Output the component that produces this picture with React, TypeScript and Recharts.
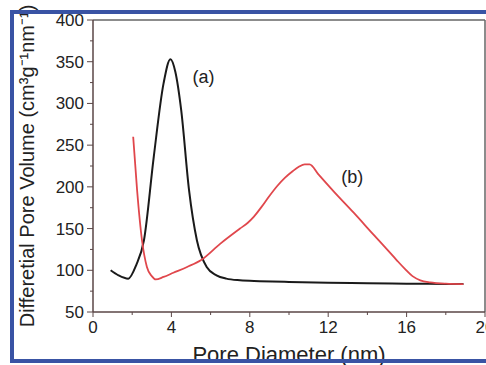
import { LineChart, Line, XAxis, YAxis, ReferenceLine, ReferenceDot } from "recharts";

// curve (a)
const poreA = [0.9, 1.3, 1.8, 2.2, 2.6, 3.1, 3.6, 3.95, 4.2, 4.5, 4.9, 5.3, 5.8, 6.3, 6.8, 7.5, 8.5, 10, 12, 14, 16, 18, 18.9];
const volA = [100, 94, 90, 106, 136, 236, 324, 353, 338, 292, 196, 136, 104, 94, 90, 88, 87, 86, 85, 84.5, 84, 83.7, 83.6];

// curve (b)
const poreB = [2.05, 2.25, 2.5, 2.75, 3.0, 3.2, 3.6, 4.1, 4.8, 5.5, 6.5, 7.5, 7.9, 8.2, 8.6, 9.0, 9.4, 9.8, 10.2, 10.5, 10.8, 11.05, 11.5, 12.3, 13.3, 14.3, 15.0, 15.5, 15.9, 16.3, 16.7, 17.2, 18.0, 18.9];
const volB = [260, 196, 136, 104, 93, 89, 92, 97, 104, 112, 132, 150, 157, 164, 176, 189, 201, 211, 219, 224, 227, 227, 215, 194, 169, 143, 125, 112, 102, 93, 88, 85.5, 84, 83.5];

const xTicks = [0, 2, 4, 6, 8, 10, 12, 14, 16, 18, 20];
const yTicks = [50, 75, 100, 125, 150, 175, 200, 225, 250, 275, 300, 325, 350, 375, 400];
const curveNames = ["(a)", "(b)"];

const seriesA = poreA.map((x, i) => ({ x, v: volA[i] }));
const seriesB = poreB.map((x, i) => ({ x, v: volB[i] }));

const AXIS = "#5a4646";
const FONT = "'Liberation Sans', Arial, sans-serif";

function XTick({ x, y, payload }: any) {
  const v = payload.value;
  const major = v % 4 === 0;
  return (
    <g>
      <line x1={x} x2={x} y1={y} y2={y + (major ? 5 : 3)} stroke={AXIS} />
      {major && (
        <text x={x} y={y + 21} textAnchor="middle" fontSize={17} fill="#222" fontFamily={FONT}>
          {v}
        </text>
      )}
    </g>
  );
}

function YTick({ x, y, payload }: any) {
  const v = payload.value;
  const major = v % 50 === 0;
  return (
    <g>
      <line x1={x} x2={x - (major ? 6 : 3)} y1={y} y2={y} stroke={AXIS} />
      {major && (
        <text x={x - 9} y={y + 6} textAnchor="end" fontSize={17} fill="#222" fontFamily={FONT}>
          {v}
        </text>
      )}
    </g>
  );
}

export default function App() {
  return (
    <div style={{ position: "absolute", left: 0, top: 0, width: 486, height: 365, overflow: "hidden", background: "#fff" }}>
      <LineChart width={486} height={365} margin={{ top: 20, right: 1, left: 0, bottom: 0 }}>
        <XAxis
          type="number"
          dataKey="x"
          domain={[0, 20]}
          ticks={xTicks}
          interval={0}
          height={53}
          tickSize={0}
          tickMargin={0}
          tickLine={false}
          axisLine={{ stroke: AXIS, strokeWidth: 1.5 }}
          tick={<XTick />}
          label={{ value: "Pore Diameter (nm)", position: "insideBottom", offset: 3, fontSize: 22, fill: "#222", fontFamily: FONT }}
        />
        <YAxis
          type="number"
          domain={[50, 400]}
          ticks={yTicks}
          interval={0}
          width={93}
          tickSize={0}
          tickMargin={0}
          tickLine={false}
          axisLine={{ stroke: AXIS, strokeWidth: 1.5 }}
          tick={<YTick />}
          label={{
            value: "Differetial Pore Volume (cm³g⁻¹nm⁻¹)",
            angle: -90,
            position: "insideLeft",
            offset: 27,
            fontSize: 20,
            fill: "#222",
            fontFamily: FONT,
            style: { textAnchor: "middle" },
          }}
        />
        <ReferenceLine y={400} stroke="#666" strokeWidth={1.5} />
        <ReferenceLine x={20} stroke="#666" strokeWidth={1.5} />
        <Line data={seriesA} dataKey="v" type="monotone" stroke="#1a1a1a" strokeWidth={2} dot={false} isAnimationActive={false} />
        <Line data={seriesB} dataKey="v" type="monotone" stroke="#e0474c" strokeWidth={1.8} dot={false} isAnimationActive={false} />
        <ReferenceDot x={5.64} y={332} r={0} label={{ value: curveNames[0], position: "center", fontSize: 18, fill: "#222", fontFamily: FONT }} />
        <ReferenceDot x={13.23} y={212} r={0} label={{ value: curveNames[1], position: "center", fontSize: 18, fill: "#222", fontFamily: FONT }} />
      </LineChart>
      <div
        style={{
          position: "absolute",
          left: 10,
          top: 10,
          width: 500,
          height: 353,
          boxSizing: "border-box",
          border: "4px solid #3953a4",
          borderRight: "none",
          pointerEvents: "none",
        }}
      />
    </div>
  );
}
